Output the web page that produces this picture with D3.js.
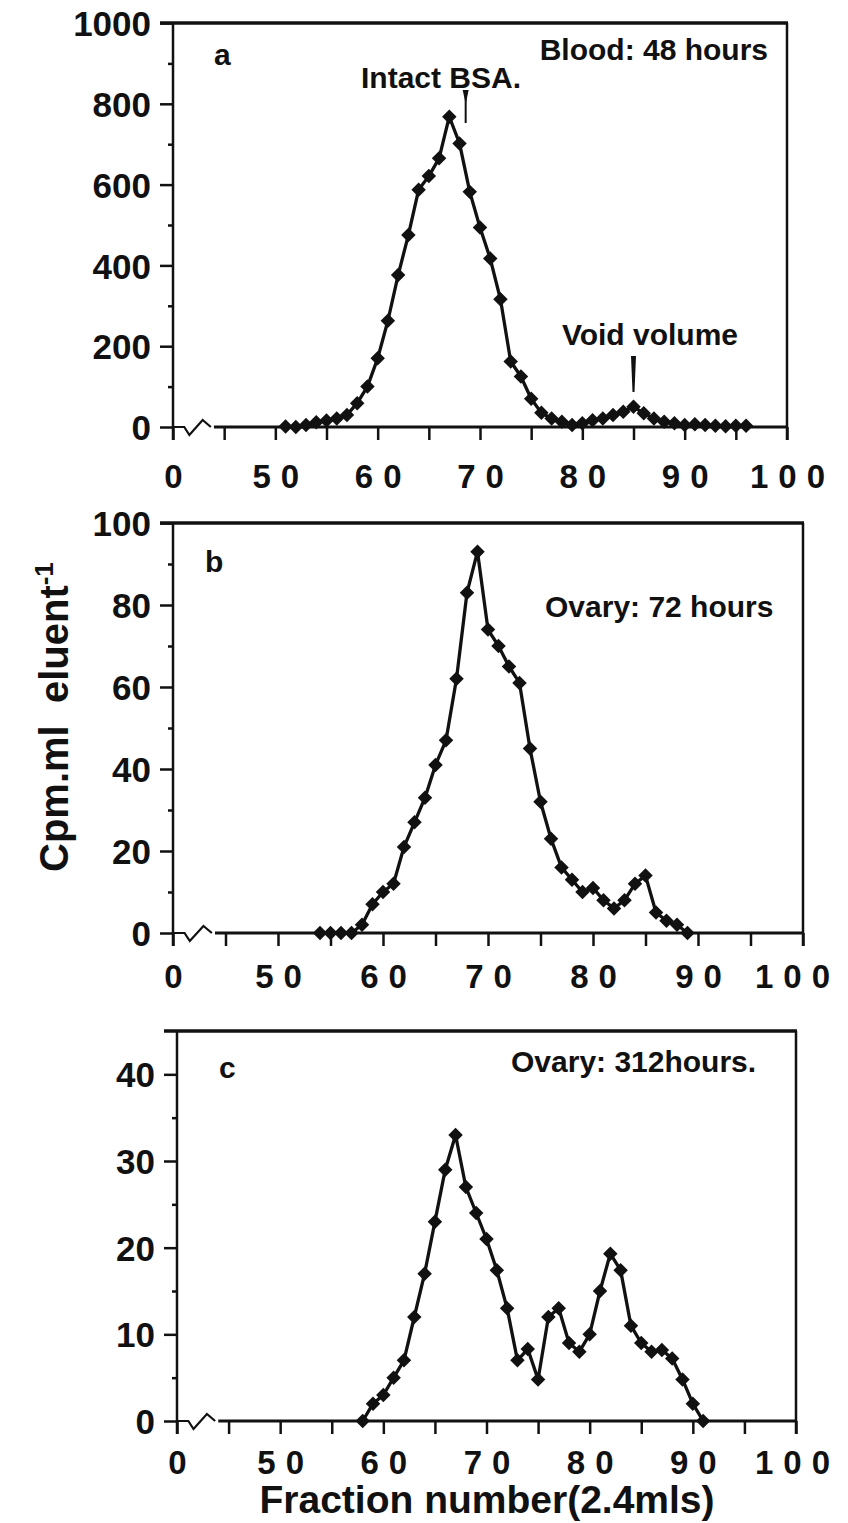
<!DOCTYPE html>
<html>
<head>
<meta charset="utf-8">
<script src="https://cdn.jsdelivr.net/npm/d3@7"></script>
<style>
  body { margin: 0; background: #fff; }
  svg text { font-family: "Liberation Sans", Arial, Helvetica, sans-serif; font-weight: bold; fill: #111; }
</style>
</head>
<body>
<script>
// panel a - Blood: 48 hours
var fracA = [51,52,53,54,55,56,57,58,59,60,61,62,63,64,65,66,67,68,69,70,71,72,73,74,75,76,77,78,79,80,81,82,83,84,85,86,87,88,89,90,91,92,93,94,95,96];
var cpmA  = [1,0,5,12,16,21,30,59,100,170,263,376,475,587,621,665,768,702,582,494,417,316,162,125,70,35,21,13,5,9,17,21,30,38,50,34,21,13,9,5,7,5,3,2,3,3];

// panel b - Ovary: 72 hours
var fracB = [54,55,56,57,58,59,60,61,62,63,64,65,66,67,68,69,70,71,72,73,74,75,76,77,78,79,80,81,82,83,84,85,86,87,88,89];
var cpmB  = [0,0,0,0,2,7,10,12,21,27,33,41,47,62,83,93,74,70,65,61,45,32,23,16,13,10,11,8,6,8,12,14,5,3,2,0];

// panel c - Ovary: 312hours.
var fracC = [58,59,60,61,62,63,64,65,66,67,68,69,70,71,72,73,74,75,76,77,78,79,80,81,82,83,84,85,86,87,88,89,90,91];
var cpmC  = [0,2,3,5,7,12,17,23,29,33,27,24,21,17.4,13,7,8.3,4.8,12,13,9,8,10,15,19.3,17.4,11,9,8,8.2,7.2,4.8,2,0];

var xTickVals = [40,45,50,55,60,65,70,75,80,85,90,95,100];
var xLabels = {40:"0", 50:"50", 60:"60", 70:"70", 80:"80", 90:"90", 100:"100"};

var yMajorA = [0,200,400,600,800,1000], yMinorA = [100,300,500,700,900];
var yMajorB = [0,20,40,60,80,100],      yMinorB = [10,30,50,70,90];
var yMajorC = [0,10,20,30,40],          yMinorC = [5,15,25,35];

var w = 848, h = 1523;

var svg = d3.select("body").append("svg")
    .attr("width", w)
    .attr("height", h);

var diamond = {
  draw: function(ctx, size) {
    var r = Math.sqrt(size / 2);
    ctx.moveTo(0, -r);
    ctx.lineTo(r, 0);
    ctx.lineTo(0, r);
    ctx.lineTo(-r, 0);
    ctx.closePath();
  }
};

function panel(p) {
  var x = d3.scaleLinear().domain([40, 100]).range([p.left, p.right]);
  var y = d3.scaleLinear().domain([0, p.ymax]).range([p.zero, p.top]);
  var g = svg.append("g");
  var y0 = y(0);

  // y axis: major ticks + labels
  g.append("g")
    .attr("transform", "translate(" + p.left + ",0)")
    .call(d3.axisLeft(y).tickValues(p.major).tickSize(13).tickPadding(9).tickFormat(d3.format("d")))
    .call(function(a) { a.select(".domain").remove(); })
    .call(function(a) {
      a.selectAll("line").attr("stroke", "#111").attr("stroke-width", 2.5);
      a.selectAll("text").style("font-size", "35px").attr("dy", "0.36em");
    });

  // minor ticks
  g.append("g")
    .attr("transform", "translate(" + p.left + ",0)")
    .call(d3.axisLeft(y).tickValues(p.minor).tickSize(5).tickFormat(""))
    .call(function(a) { a.select(".domain").remove(); })
    .selectAll("line").attr("stroke", "#111").attr("stroke-width", 2.5);

  // x axis ticks + labels
  var xa = g.append("g")
    .attr("transform", "translate(0," + y0 + ")")
    .call(d3.axisBottom(x).tickValues(xTickVals).tickSize(13).tickPadding(p.labelPad)
      .tickFormat(function(d) { return xLabels[d] || ""; }))
    .call(function(a) { a.select(".domain").remove(); });
  xa.selectAll("line").attr("stroke", "#111").attr("stroke-width", 2.5);
  xa.selectAll("text")
    .style("font-size", "33px")
    .style("letter-spacing", "10px")
    .attr("dx", function(d) { return d === 100 ? p.lastDx : 5; });

  // axis lines + frame
  g.append("line").attr("x1", p.left).attr("x2", p.left).attr("y1", p.top).attr("y2", y0 + 13)
    .attr("stroke", "#111").attr("stroke-width", 2.5);
  g.append("line").attr("x1", p.right).attr("x2", p.right).attr("y1", p.top).attr("y2", y0 + 13)
    .attr("stroke", "#111").attr("stroke-width", 2.5);
  g.append("line").attr("x1", p.left - 13).attr("x2", p.right + 1).attr("y1", p.top).attr("y2", p.top)
    .attr("stroke", "#111").attr("stroke-width", 3.5);

  // broken x axis
  g.append("path")
    .attr("d", "M" + x(40) + "," + y0 + "L" + x(41.1) + "," + y0 +
               "L" + x(41.6) + "," + (y0 + 8) + "L" + x(42.9) + "," + (y0 - 7) +
               "L" + x(43.7) + "," + y0)
    .attr("fill", "none").attr("stroke", "#111").attr("stroke-width", 2.2);
  g.append("line").attr("x1", x(44)).attr("x2", p.right).attr("y1", y0).attr("y2", y0)
    .attr("stroke", "#111").attr("stroke-width", 3);

  // data
  var pts = p.frac.map(function(f, i) { return [f, p.cpm[i]]; });
  g.append("path")
    .datum(pts)
    .attr("fill", "none")
    .attr("stroke", "#111")
    .attr("stroke-width", 3.3)
    .attr("stroke-linejoin", "round")
    .attr("d", d3.line().x(function(d) { return x(d[0]); }).y(function(d) { return y(d[1]); }));

  g.selectAll(".pt")
    .data(pts)
    .enter()
    .append("path")
    .attr("class", "pt")
    .attr("transform", function(d) { return "translate(" + x(d[0]) + "," + y(d[1]) + ")"; })
    .attr("d", d3.symbol().type(diamond).size(105))
    .attr("fill", "#111");

  // panel letter + caption
  g.append("text").attr("x", p.letter[0]).attr("y", p.letter[1])
    .style("font-size", "30px").text(p.letterText);
  g.append("text").attr("x", p.cap[0]).attr("y", p.cap[1])
    .attr("text-anchor", p.capAnchor)
    .style("font-size", "30px").text(p.capText);

  return {x: x, y: y, g: g};
}

var pa = panel({left: 173, right: 787, top: 23, zero: 427, ymax: 1000, major: yMajorA, minor: yMinorA,
  labelPad: 25, lastDx: 5, frac: fracA, cpm: cpmA, letter: [214, 65], letterText: "a",
  cap: [768, 60], capAnchor: "end", capText: "Blood: 48 hours"});

var pb = panel({left: 173, right: 803, top: 523, zero: 933, ymax: 100, major: yMajorB, minor: yMinorB,
  labelPad: 19, lastDx: -6, frac: fracB, cpm: cpmB, letter: [205, 572], letterText: "b",
  cap: [545, 617], capAnchor: "start", capText: "Ovary: 72 hours"});

var pc = panel({left: 177, right: 796, top: 1031, zero: 1421, ymax: 45, major: yMajorC, minor: yMinorC,
  labelPad: 17, lastDx: 1, frac: fracC, cpm: cpmC, letter: [219, 1078], letterText: "c",
  cap: [511, 1072], capAnchor: "start", capText: "Ovary: 312hours."});

// annotations in panel a
pa.g.append("text").attr("x", 441).attr("y", 88).attr("text-anchor", "middle")
  .style("font-size", "30px").text("Intact BSA.");
var ax = pa.x(68.6);
pa.g.append("path")
  .attr("d", "M" + (ax - 3) + ",90L" + (ax + 3) + ",90L" + ax + ",104Z")
  .attr("fill", "#111");
pa.g.append("line").attr("x1", ax).attr("x2", ax).attr("y1", 92).attr("y2", 123)
  .attr("stroke", "#111").attr("stroke-width", 2);

pa.g.append("text").attr("x", 650).attr("y", 345).attr("text-anchor", "middle")
  .style("font-size", "30px").text("Void volume");
var vx = pa.x(85);
pa.g.append("path")
  .attr("d", "M" + (vx - 2.5) + ",356L" + (vx + 2.5) + ",356L" + (vx + 1) + ",392L" + (vx - 1) + ",392Z")
  .attr("fill", "#111");

// axis titles
svg.append("text")
  .attr("transform", "translate(68,872) rotate(-90)")
  .style("font-size", "40px")
  .style("white-space", "pre")
  .text("Cpm.ml  eluent")
  .append("tspan")
  .attr("baseline-shift", "super")
  .style("font-size", "26px")
  .text("-1");

svg.append("text")
  .attr("x", 487).attr("y", 1513)
  .attr("text-anchor", "middle")
  .style("font-size", "39px")
  .text("Fraction number(2.4mls)");
</script>
</body>
</html>
